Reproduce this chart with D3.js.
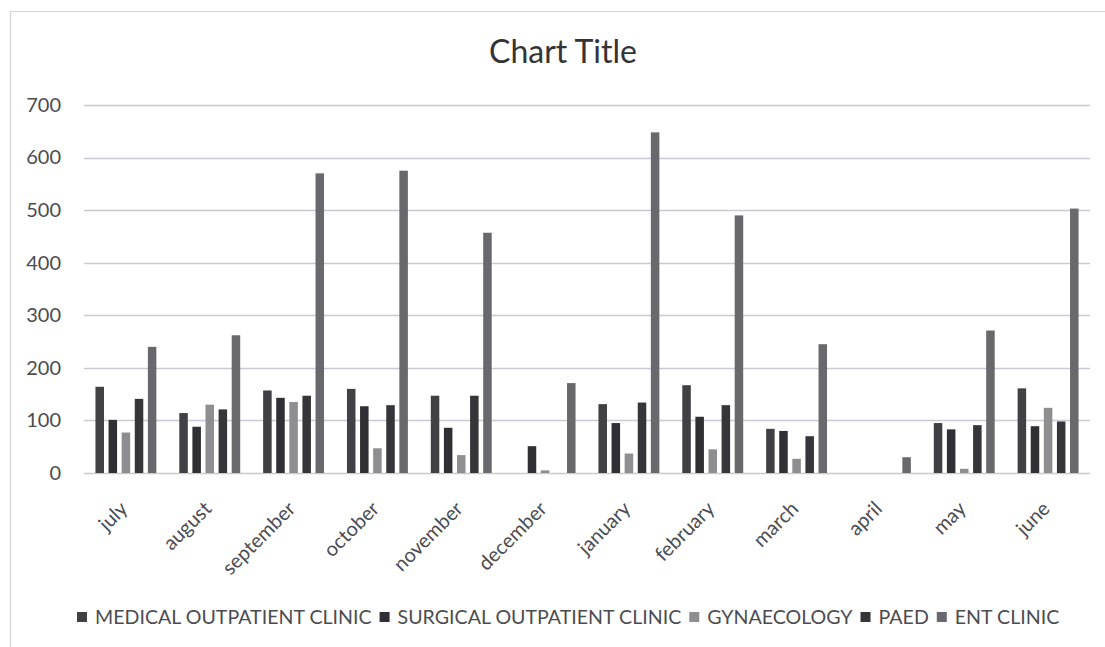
<!DOCTYPE html>
<html>
<head>
<meta charset="utf-8">
<script src="https://cdn.jsdelivr.net/npm/d3@7"></script>
<style>
  html, body { margin: 0; padding: 0; background: #fff; }
  svg { display: block; font-family: Lato, "Open Sans", sans-serif; }
</style>
</head>
<body>
<svg id="chart" width="1105" height="647"></svg>
<script>
// Monthly clinic attendance
const months = ["july", "august", "september", "october", "november", "december",
                "january", "february", "march", "april", "may", "june"];
const seriesNames = ["MEDICAL OUTPATIENT CLINIC", "SURGICAL OUTPATIENT CLINIC",
                     "GYNAECOLOGY", "PAED", "ENT CLINIC"];
const medical  = [164, 114, 157, 160, 147, 0, 131, 167, 84, 0, 95, 161];
const surgical = [101, 88, 143, 127, 86, 51, 95, 107, 80, 0, 83, 89];
const gynae    = [77, 130, 135, 47, 34, 5, 37, 45, 27, 0, 8, 124];
const paed     = [141, 121, 147, 129, 147, 0, 134, 129, 70, 0, 91, 98];
const ent      = [240, 262, 570, 575, 457, 171, 648, 490, 245, 30, 271, 503];
const yTicks   = [0, 100, 200, 300, 400, 500, 600, 700];
const colors   = ["#404045", "#2f2f34", "#8e8e91", "#35353a", "#69696d"];

const seriesValues = [medical, surgical, gynae, paed, ent];
const textColor = "#4c4c50";

const svg = d3.select("#chart");

// frame of the chart area
svg.append("path")
  .attr("d", "M10.5,647 L10.5,11.5 L1105,11.5")
  .attr("fill", "none")
  .attr("stroke", "#d3d3dc")
  .attr("stroke-width", 1.2);

const plot = { left: 84, right: 1090, top: 105, bottom: 473 };

const x0 = d3.scaleBand().domain(months).range([plot.left, plot.right]);
const x1 = d3.scaleBand().domain(seriesNames).range([0, x0.bandwidth()])
  .paddingInner(0.35).paddingOuter(0.875);
const y = d3.scaleLinear().domain([0, 700]).range([plot.bottom, plot.top]);

// gridlines
svg.append("g")
  .selectAll("line")
  .data(yTicks)
  .join("line")
  .attr("x1", plot.left).attr("x2", plot.right)
  .attr("y1", d => Math.round(y(d)) + 0.5).attr("y2", d => Math.round(y(d)) + 0.5)
  .attr("stroke", "#c9c9d4").attr("stroke-width", 1.3);

// y axis labels
const yAxis = d3.axisLeft(y).tickValues(yTicks).tickSize(0).tickPadding(0);
svg.append("g")
  .attr("transform", `translate(61,0)`)
  .call(yAxis)
  .call(g => g.select(".domain").remove())
  .selectAll("text")
  .attr("font-family", "Lato, sans-serif")
  .attr("font-size", 20)
  .attr("fill", textColor);

// bars
const groups = svg.append("g")
  .selectAll("g")
  .data(seriesNames.map((name, i) => ({ name, values: seriesValues[i], color: colors[i] })))
  .join("g")
  .attr("fill", d => d.color);

groups.selectAll("rect")
  .data(d => d.values.map((v, j) => ({ name: d.name, month: months[j], value: v })))
  .join("rect")
  .filter(d => d.value > 0)
  .attr("x", d => x0(d.month) + x1(d.name))
  .attr("width", x1.bandwidth())
  .attr("y", d => y(d.value))
  .attr("height", d => y(0) - y(d.value));

// x axis labels, rotated
const xAxis = d3.axisBottom(x0).tickSize(0).tickPadding(0);
svg.append("g")
  .attr("transform", `translate(0,${plot.bottom})`)
  .call(xAxis)
  .call(g => g.select(".domain").remove())
  .selectAll("text")
  .attr("font-family", "Lato, sans-serif")
  .attr("font-size", 20)
  .attr("fill", textColor)
  .attr("text-anchor", "end")
  .attr("dy", "0")
  .attr("y", 0)
  .attr("transform", "translate(3,37) rotate(-45)");

// title
svg.append("text")
  .attr("x", 563).attr("y", 63)
  .attr("text-anchor", "middle")
  .attr("font-size", 32)
  .attr("fill", "#333338")
  .text("Chart Title");

// legend
const legend = svg.append("g").attr("transform", "translate(0,617)");
const items = legend.selectAll("g")
  .data(seriesNames.map((n, i) => ({ name: n, color: colors[i] })))
  .join("g");
items.append("rect")
  .attr("width", 10).attr("height", 10).attr("y", -5)
  .attr("fill", d => d.color);
items.append("text")
  .attr("x", 18).attr("dy", "0.35em")
  .attr("font-size", 19.6)
  .attr("fill", textColor)
  .text(d => d.name);
let cursor = 77;
items.each(function () {
  const g = d3.select(this);
  g.attr("transform", `translate(${cursor},0)`);
  cursor += 18 + g.select("text").node().getComputedTextLength() + 8;
});
</script>
</body>
</html>
